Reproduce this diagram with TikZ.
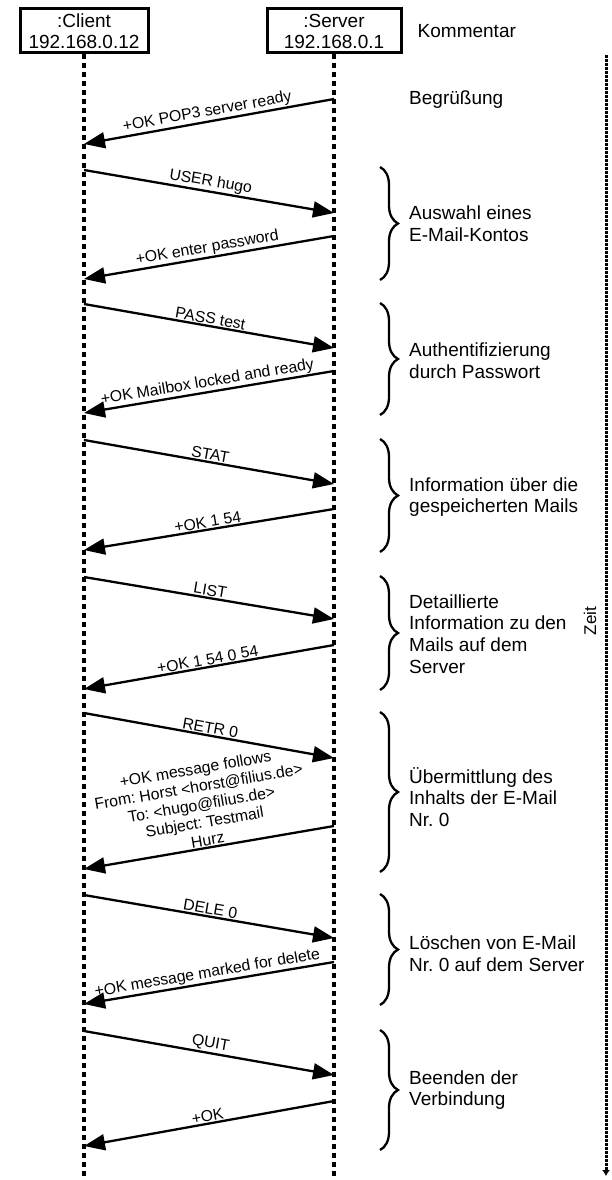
\documentclass[tikz,border=0pt]{standalone}
\usepackage{fontspec}
\setmainfont{Liberation Sans}
\usetikzlibrary{arrows.meta,calc,positioning,decorations.pathreplacing}
\tikzset{every picture/.style={
  >={Triangle[length=21pt,width=16pt]}  % Big filled arrow heads.
  }
}
\frenchspacing

\begin{document}
\begin{tikzpicture}[
    x=1pt,
    y=-1pt,
    lifebox/.style={
      draw,
      line width=3pt,
      minimum height=44pt,
      inner sep=0pt,
      align=center,
      font=\fontsize{19}{21}\selectfont
    },
    lifeline/.style={
      line width=3.2pt,
      dash pattern=on 5pt off 4pt
    },
    msg/.style={->,line width=2.3pt},
    msgtext/.style={
      midway,
      above,
      sloped,
      inner sep=1pt,
      align=center,
      font=\fontsize{15.8}{18}\selectfont
    },
    remark/.style={
      anchor=west,
      align=left,
      inner sep=0pt,
      font=\fontsize{19}{21.7}\selectfont
    },
    phase/.style={
      decorate,
      decoration={brace,amplitude=18pt},
      line width=2.3pt
    },
    timeline/.style={
      line width=3pt,
      dash pattern=on 3pt off 1pt,
      -{Latex[length=6pt,width=8pt]}
    }]
    \useasboundingbox (0,0) rectangle (611,1180);

    % The two partners and their life lines.
    \node[lifebox,minimum width=128pt] (client) at (84,31) {:Client\\192.168.0.12};
    \node[lifebox,minimum width=134pt] (server) at (334,31) {:Server\\192.168.0.1};
    \node[remark,right=15pt of server] (kommentar) {Kommentar};
    \coordinate (cend) at (client |- 0,1180);
    \coordinate (send) at (server |- 0,1180);
    \draw[lifeline] (client.south) -- (cend);
    \draw[lifeline] (server.south) -- (send);

    % Points on the life lines where messages leave and arrive.
    \coordinate (s0) at (server |- 0,99);    \coordinate (c0) at (client |- 0,144);
    \coordinate (c1) at (client |- 0,170);   \coordinate (s1) at (server |- 0,213);
    \coordinate (s2) at (server |- 0,236);   \coordinate (c2) at (client |- 0,279);
    \coordinate (c3) at (client |- 0,304);   \coordinate (s3) at (server |- 0,348);
    \coordinate (s4) at (server |- 0,371);   \coordinate (c4) at (client |- 0,413);
    \coordinate (c5) at (client |- 0,440);   \coordinate (s5) at (server |- 0,484);
    \coordinate (s6) at (server |- 0,509);   \coordinate (c6) at (client |- 0,550);
    \coordinate (c7) at (client |- 0,577);   \coordinate (s7) at (server |- 0,619);
    \coordinate (s8) at (server |- 0,645);   \coordinate (c8) at (client |- 0,689);
    \coordinate (c9) at (client |- 0,713);   \coordinate (s9) at (server |- 0,758);
    \coordinate (s10) at (server |- 0,826);  \coordinate (c10) at (client |- 0,869);
    \coordinate (c11) at (client |- 0,895);  \coordinate (s11) at (server |- 0,938);
    \coordinate (s12) at (server |- 0,962);  \coordinate (c12) at (client |- 0,1004);
    \coordinate (c13) at (client |- 0,1031); \coordinate (s13) at (server |- 0,1075);
    \coordinate (s14) at (server |- 0,1101); \coordinate (c14) at (client |- 0,1146);

    % The POP3 dialogue.
    \draw[msg] (s0) -- node[msgtext] {+OK POP3 server ready} (c0);
    \draw[msg] (c1) -- node[msgtext] {USER hugo} (s1);
    \draw[msg] (s2) -- node[msgtext] {+OK enter password} (c2);
    \draw[msg] (c3) -- node[msgtext] {PASS test} (s3);
    \draw[msg] (s4) -- node[msgtext] {+OK Mailbox locked and ready} (c4);
    \draw[msg] (c5) -- node[msgtext] {STAT} (s5);
    \draw[msg] (s6) -- node[msgtext] {+OK 1 54} (c6);
    \draw[msg] (c7) -- node[msgtext] {LIST} (s7);
    \draw[msg] (s8) -- node[msgtext] {+OK 1 54 0 54} (c8);
    \draw[msg] (c9) -- node[msgtext] {RETR 0} (s9);
    \draw[msg] (s10) -- node[msgtext]
      {+OK message follows\\From: Horst <horst@filius.de>\\To: <hugo@filius.de>\\Subject: Testmail\\Hurz} (c10);
    \draw[msg] (c11) -- node[msgtext] {DELE 0} (s11);
    \draw[msg] (s12) -- node[msgtext] {+OK message marked for delete} (c12);
    \draw[msg] (c13) -- node[msgtext] {QUIT} (s13);
    \draw[msg] (s14) -- node[msgtext] {+OK} (c14);

    % Group the steps and comment them.
    \node[remark] (gruss) at (409,100) {Begrüßung};
    \coordinate (b1a) at (380,167);  \coordinate (b1b) at (380,280);
    \coordinate (b2a) at (380,303);  \coordinate (b2b) at (380,415);
    \coordinate (b3a) at (380,439);  \coordinate (b3b) at (380,552);
    \coordinate (b4a) at (380,576);  \coordinate (b4b) at (380,690);
    \coordinate (b5a) at (380,712);  \coordinate (b5b) at (380,872);
    \coordinate (b6a) at (380,894);  \coordinate (b6b) at (380,1005);
    \coordinate (b7a) at (380,1030); \coordinate (b7b) at (380,1150);
    \draw[phase] (b1a) -- (b1b);
    \draw[phase] (b2a) -- (b2b);
    \draw[phase] (b3a) -- (b3b);
    \draw[phase] (b4a) -- (b4b);
    \draw[phase] (b5a) -- (b5b);
    \draw[phase] (b6a) -- (b6b);
    \draw[phase] (b7a) -- (b7b);
    \node[remark] (konto) at (409,224) {Auswahl eines\\E-Mail-Kontos};
    \node[remark] (auth) at (409,361) {Authentifizierung\\durch Passwort};
    \node[remark] (info) at (409,497) {Information über die\\gespeicherten Mails};
    \node[remark] (liste) at (409,634) {Detaillierte\\Information zu den\\Mails auf dem\\Server};
    \node[remark] (abruf) at (409,797) {Übermittlung des\\Inhalts der E-Mail\\Nr. 0};
    \node[remark] (loeschen) at (409,954) {Löschen von E-Mail\\Nr. 0 auf dem Server};
    \node[remark] (ende) at (409,1090) {Beenden der\\Verbindung};

    % Time runs downwards.
    \coordinate (t0) at (606,55);
    \coordinate (t1) at (606,1176);
    \draw[timeline] (t0) -- (t1);
    \node[rotate=90,inner sep=0pt,font=\fontsize{17}{20}\selectfont] (zeit) at (590,621) {Zeit};
  \end{tikzpicture}
\end{document}
